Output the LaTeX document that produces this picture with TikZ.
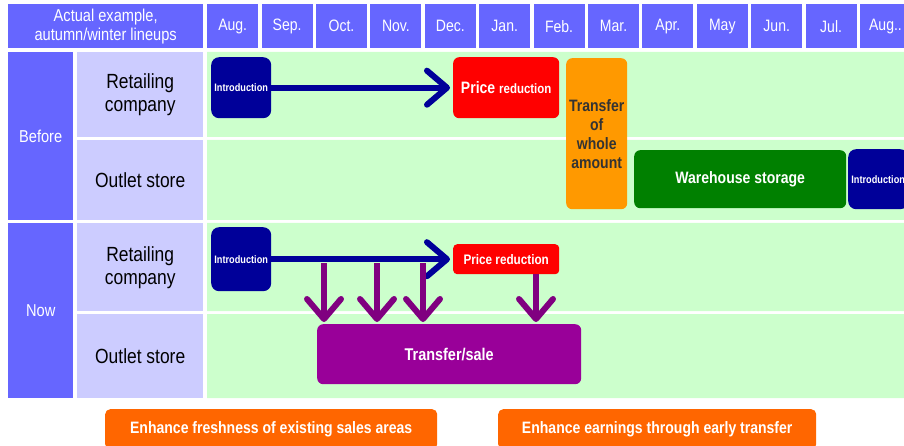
\documentclass[tikz,border=0pt]{standalone}
\usepackage{fontspec}
\setmainfont{Liberation Sans}[FakeStretch=0.85]
\usetikzlibrary{arrows.meta}
\definecolor{hdrblue}{HTML}{6666FF}
\definecolor{rowlav}{HTML}{CCCCFF}
\definecolor{mint}{HTML}{CCFFCC}
\definecolor{navy}{HTML}{000099}
\definecolor{plum}{HTML}{990099}
\definecolor{arrowplum}{HTML}{800080}
\definecolor{amber}{HTML}{FF9900}
\definecolor{leaf}{HTML}{008000}
\definecolor{tangerine}{HTML}{FF6600}
\definecolor{inkgray}{HTML}{333333}
\begin{document}
\begin{tikzpicture}[x=1pt, y=-1pt,
    cell/.style={anchor=north west, inner sep=0pt, align=center},
    hdr/.style={cell, fill=hdrblue, text=white, font=\fontsize{16.5}{19}\selectfont},
    side/.style={cell, fill=rowlav, font=\fontsize{20.5}{23}\selectfont},
    bar/.style={cell, rounded corners=6pt, text=white, font=\bfseries\fontsize{16.5}{19}\selectfont},
    intro/.style={bar, fill=navy, rounded corners=8pt, minimum width=60pt, font=\bfseries\fontsize{10.8}{12}\selectfont},
    flow/.style={line width=6pt, -{Straight Barb[length=20pt, width=34pt, round]}}]
    \useasboundingbox (0,0) rectangle (904,446);
    \clip (0,0) rectangle (904,446);
    \node[hdr, minimum width=195pt, minimum height=44pt, font=\fontsize{17.2}{19}\selectfont] (corner) at (8,4) {Actual example,\\autumn/winter lineups};
    \foreach \m [count=\i from 0] in {Aug.,Sep.,Oct.,Nov.,Dec.,Jan.,Feb.,Mar.,Apr.,May,Jun.,Jul.,{Aug..}} {
        \node[hdr, minimum width=51pt, minimum height=44pt] (m\i) at ({207+54.4*\i},4) {\m};
    }
    \node[hdr, minimum width=65pt, minimum height=168pt, font=\fontsize{17.2}{19}\selectfont] (before) at (8,52) {Before};
    \node[hdr, minimum width=65pt, minimum height=175pt, font=\fontsize{17.2}{19}\selectfont] (now) at (8,223) {Now};
    \node[side, minimum width=126pt, minimum height=85pt] (ret1) at (77,52) {Retailing\\company};
    \node[side, minimum width=126pt, minimum height=80pt] (out1) at (77,140) {Outlet store};
    \node[side, minimum width=126pt, minimum height=88pt] (ret2) at (77,223) {Retailing\\company};
    \node[side, minimum width=126pt, minimum height=84pt] (out2) at (77,314) {Outlet store};
    \fill[mint] (207,52) rectangle (904,137) (207,140) rectangle (904,220);
    \fill[mint] (207,223) rectangle (904,311) (207,314) rectangle (904,398);
    % before
    \node[intro, minimum height=61pt] (intro1) at (211,57) {Introduction};
    \node[bar, fill=red, minimum width=106pt, minimum height=61pt, font=\bfseries\fontsize{16.5}{19}\selectfont] (price1) at (453,57) {Price {\fontsize{13.5}{16}\selectfont reduction}};
    \node[bar, fill=amber, text=inkgray, minimum width=61pt, minimum height=151pt] (whole) at (566,58) {Transfer\\of\\whole\\amount};
    \node[bar, fill=leaf, minimum width=212pt, minimum height=58pt] (store) at (634,150) {Warehouse storage};
    \node[intro, minimum height=60pt] (intro3) at (848,149) {Introduction};
    \draw[flow, navy, shorten >=3pt] (intro1) -- (price1);
    % now
    \node[intro, minimum height=64pt] (intro2) at (211,227) {Introduction};
    \node[bar, fill=red, rounded corners=4pt, minimum width=106pt, minimum height=30pt, font=\bfseries\fontsize{13.8}{16}\selectfont] (price2) at (453,244) {Price reduction};
    \node[bar, fill=plum, minimum width=264pt, minimum height=60pt, font=\bfseries\fontsize{17}{19}\selectfont] (sale) at (317,324) {Transfer/sale};
    \draw[flow, navy, shorten >=3pt] (intro2) -- (price2);
    \foreach \x [count=\k] in {324,377,423} {
        \coordinate (d\k) at (\x,263);
        \draw[flow, arrowplum, shorten >=2pt] (d\k) -- (d\k |- sale.north);
    }
    \coordinate (d4) at (536,0);
    \draw[flow, arrowplum, shorten >=2pt] (price2.south -| d4) -- (sale.north -| d4);
    % bottom
    \node[bar, fill=tangerine, rounded corners=5pt, minimum width=332pt, minimum height=40pt] (fresh) at (105,409) {Enhance freshness of existing sales areas};
    \node[bar, fill=tangerine, rounded corners=5pt, minimum width=318pt, minimum height=40pt] (earn) at (498,409) {Enhance earnings through early transfer};
\end{tikzpicture}
\end{document}
